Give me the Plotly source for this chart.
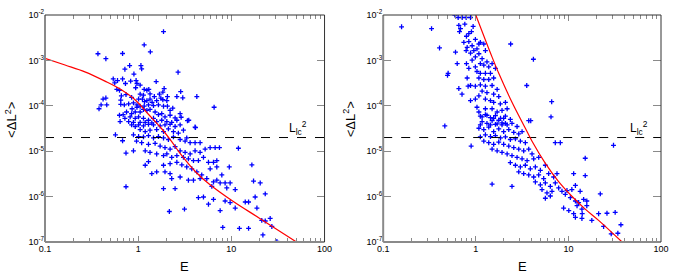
import plotly.graph_objects as go

# ---------------- data ----------------
E_left = [
    1.87, 1.16, 1.35, 0.37, 0.68, 0.45, 0.81, 1.07, 1.09, 0.72,
    0.90, 2.68, 0.54, 0.60, 0.68, 0.56, 0.73, 0.83, 0.95, 0.97,
    0.59, 0.63, 0.94, 1.05, 1.56, 1.90, 2.86, 1.84, 1.30, 1.16,
    1.24, 2.60, 3.01, 4.26, 6.53, 0.42, 0.45, 0.40, 0.46, 0.38,
    0.66, 0.65, 0.85, 3.49, 4.12, 2.89,
    0.74, 1.05, 1.14, 1.34, 1.49, 1.69, 2.06, 1.01, 1.11, 1.17,
    1.24, 1.34, 1.41, 1.58, 1.75, 1.84, 2.03, 0.65, 0.71, 0.79,
    0.89, 0.97, 1.05, 1.16, 1.29, 1.46, 1.65, 1.87, 2.06, 2.35,
    2.20, 0.86, 0.97, 0.75, 0.85, 0.93, 1.05, 1.14, 1.24, 1.34,
    1.52, 1.65, 1.79, 1.94, 2.20, 2.49, 2.82, 0.72, 0.82, 0.93,
    1.01, 1.14, 1.29, 1.46, 1.58, 1.79, 2.03, 2.29, 2.60, 3.38,
    0.64, 0.79, 0.89, 1.05, 1.19, 1.40, 0.63, 0.69,
    0.85, 0.93, 1.01, 1.14, 1.29, 1.46, 1.72, 1.94, 2.20, 2.49,
    2.82, 4.08, 1.05, 1.19, 1.34, 1.58, 1.87, 2.11, 2.39, 2.70,
    3.06, 0.89, 1.01, 1.14, 1.29, 1.46, 1.65, 1.87, 2.11, 2.39,
    2.82, 3.19, 3.61, 4.08, 4.62, 3.32, 0.96, 1.09, 1.29, 1.52,
    1.72, 1.94, 2.20, 2.49, 2.82, 3.19, 3.61, 4.08, 4.62, 5.23,
    5.92, 6.70, 7.45, 11.9, 0.89, 1.19, 1.34, 1.58, 1.87, 2.03,
    2.29, 2.60, 3.06, 3.46, 3.92, 4.43, 5.02, 5.68, 6.43, 6.98,
    1.19, 1.29, 1.40, 1.58, 1.87, 2.20, 2.60, 2.94, 3.32, 3.76,
    4.26, 4.81, 5.45, 6.43, 6.98, 7.58, 8.57, 9.70, 9.5, 7.90,
    5.92, 6.98, 1.94, 2.20, 2.29, 2.82, 3.46, 3.92, 4.62, 6.17,
    8.93, 11.0, 16.6, 17.3, 20.4, 1.87, 2.49, 4.43, 5.02, 5.68,
    6.43, 7.58, 8.57, 9.70, 11.0, 14.1, 15.3, 18.0, 18.8, 23.1,
    2.16, 3.14, 8.09, 12.2, 15.3, 21.2, 23.1, 26.1, 27.2, 21.8,
    30.8, 0.57, 0.68, 0.74, 0.74,
]
dL_left = [
    4.3e-3, 2.2e-3, 1.54e-3, 1.4e-3, 1.42e-3, 1.09e-3, 7.7e-4, 7.7e-4, 6.5e-4, 6.4e-4,
    5.0e-4, 5.5e-4, 3.9e-4, 3.6e-4, 3.9e-4, 3.2e-4, 3.1e-4, 3.5e-4, 3.6e-4, 3.1e-4,
    2.3e-4, 2.2e-4, 2.5e-4, 2.85e-4, 3.4e-4, 2.4e-4, 2.05e-4, 2.0e-4, 2.3e-4, 2.3e-4,
    2.2e-4, 1.6e-4, 1.5e-4, 1.6e-4, 9.3e-5, 1.41e-4, 1.48e-4, 1.05e-4, 1.05e-4, 8.6e-5,
    1.66e-4, 1.34e-4, 1.53e-4, 4.8e-5, 3.3e-5, 5.6e-5,
    1.77e-4, 1.8e-4, 1.71e-4, 1.83e-4, 1.6e-4, 1.8e-4, 1.6e-4, 1.41e-4, 1.41e-4, 1.23e-4,
    1.30e-4, 1.41e-4, 1.19e-4, 1.30e-4, 1.48e-4, 1.36e-4, 1.30e-4, 1.08e-4, 1.05e-4, 1.10e-4,
    1.16e-4, 1.05e-4, 9.8e-5, 9.8e-5, 1.05e-4, 1.01e-4, 1.05e-4, 9.8e-5, 9.8e-5, 8.9e-5,
    7.9e-5, 8.6e-5, 9.3e-5, 7.3e-5, 6.7e-5, 7.3e-5, 7.3e-5, 8.3e-5, 7.9e-5, 8.3e-5,
    7.3e-5, 6.4e-5, 6.7e-5, 5.7e-5, 6.2e-5, 5.4e-5, 6.7e-5, 5.3e-5, 5.7e-5, 5.3e-5,
    5.7e-5, 5.3e-5, 4.8e-5, 5.3e-5, 4.5e-5, 4.8e-5, 4.5e-5, 4.3e-5, 4.8e-5, 4.7e-5,
    4.5e-5, 4.5e-5, 4.3e-5, 4.3e-5, 4.3e-5, 4.2e-5, 6.2e-5, 6.4e-5,
    3.8e-5, 3.5e-5, 3.8e-5, 3.6e-5, 3.9e-5, 3.8e-5, 3.6e-5, 3.8e-5, 3.9e-5, 3.5e-5,
    3.8e-5, 3.4e-5, 3.0e-5, 2.7e-5, 2.9e-5, 3.0e-5, 2.7e-5, 3.1e-5, 2.7e-5, 2.5e-5,
    2.9e-5, 2.3e-5, 2.1e-5, 2.07e-5, 2.2e-5, 1.96e-5, 2.1e-5, 1.96e-5, 1.81e-5, 2.07e-5,
    1.81e-5, 1.67e-5, 1.54e-5, 1.54e-5, 1.54e-5, 1.96e-5, 1.67e-5, 1.54e-5, 1.42e-5, 1.49e-5,
    1.30e-5, 1.20e-5, 1.11e-5, 1.26e-5, 1.02e-5, 9.4e-6, 8.7e-6, 1.02e-5, 9.4e-6, 1.11e-5,
    1.20e-5, 1.20e-5, 1.20e-5, 1.16e-5, 1.02e-5, 1.02e-5, 9.4e-6, 8.7e-6, 8.0e-6, 8.7e-6,
    7.3e-6, 8.0e-6, 7.3e-6, 6.8e-6, 6.2e-6, 6.2e-6, 7.3e-6, 5.7e-6, 5.7e-6, 6.2e-6,
    4.9e-6, 5.9e-6, 3.2e-6, 3.5e-6, 4.9e-6, 5.3e-6, 5.7e-6, 5.0e-6, 4.5e-6, 4.1e-6,
    3.5e-6, 3.0e-6, 2.5e-6, 2.1e-6, 2.3e-6, 2.0e-6, 2.0e-6, 2.0e-6, 4.5e-6, 3.0e-6,
    4.1e-6, 4.5e-6, 3.5e-6, 3.2e-6, 2.5e-6, 2.7e-6, 2.3e-6, 2.3e-6, 2.5e-6, 1.68e-6,
    1.55e-6, 1.43e-6, 5.0e-6, 2.2e-6, 2.0e-6, 1.50e-6, 1.50e-6, 9.5e-7, 9.8e-7, 6.8e-7,
    8.7e-7, 4.9e-7, 8.0e-7, 7.4e-7, 5.6e-7, 7.6e-7, 7.6e-7, 9.8e-7, 5.6e-7, 1.15e-6,
    4.7e-7, 5.3e-7, 2.1e-7, 2.0e-7, 2.0e-7, 3.0e-7, 2.9e-7, 3.3e-7, 2.2e-7, 1.43e-7,
    1.03e-7, 2.3e-5, 1.7e-5, 9.1e-6, 1.65e-6,
]

E_right = [
    0.158, 0.333, 0.406, 0.604, 0.630, 0.503, 0.495, 0.594, 0.645, 0.713,
    0.787, 0.877, 0.656, 0.684, 0.667, 0.761, 0.936, 0.793, 0.841, 0.898,
    0.99, 1.08, 0.841, 0.743, 0.807, 0.913, 1.03, 1.12, 1.22, 0.952,
    0.877, 0.787, 1.08, 1.27, 1.17, 0.99, 0.913, 0.793, 0.841, 0.99,
    1.12, 1.22, 1.32, 1.38, 1.50, 1.63, 1.44, 1.27, 1.12, 1.03,
    1.08, 1.22, 1.38, 1.56, 0.807, 0.877, 0.99, 1.12, 1.27, 1.50,
    1.70, 1.17, 1.32, 1.56, 1.77, 0.656, 0.826, 0.877, 0.99, 1.08,
    1.27, 1.44, 1.56, 1.84, 2.09, 1.03, 1.08, 1.27, 1.50, 1.70,
    1.92, 2.18, 1.17, 1.32, 1.56, 1.77, 2.00, 1.12, 1.44, 1.63,
    1.92, 2.09,
    0.71, 2.38, 4.19, 3.55, 6.6, 14.1,
    1.12, 1.27, 1.44, 1.63, 1.85, 2.09, 2.36, 1.17, 1.32, 1.50,
    1.70, 1.92, 2.18, 2.46, 2.79, 1.08, 1.22, 1.38, 1.56, 1.77,
    2.00, 2.27, 2.57, 2.91, 3.16, 1.27, 1.44, 1.63, 1.85, 2.09,
    2.36, 2.68, 3.03, 3.43, 1.12, 1.22, 1.38, 1.56, 1.77, 2.00,
    2.27, 2.57, 2.91, 3.29, 3.73, 4.05, 1.50, 1.70, 1.92, 2.18,
    2.46, 2.79, 3.16, 3.58, 4.22, 4.78, 2.36, 2.68, 3.03, 3.43,
    3.88, 4.40, 4.98, 5.64, 2.91, 3.29, 3.73, 4.22, 4.78, 5.41,
    6.12, 6.93, 7.53, 4.40, 4.98, 5.64, 6.38, 7.22, 5.19, 5.87,
    6.65, 7.85, 8.52, 9.65, 10.9, 11.9, 13.4, 5.64, 6.38, 9.26,
    10.5, 11.9, 12.9, 14.6, 15.8, 8.88, 10.1, 11.4, 12.4, 14.0,
    15.8, 11.9, 14.0, 17.9, 21.2, 24.0, 26.1, 32.0, 29.0, 34.2,
    36.9, 22.1, 15.2, 30.7, 6.49, 3.73, 3.92, 7.22, 8.18, 0.463,
    0.891, 1.5, 2.46, 11.4, 15.2,
]
dL_right = [
    5.5e-3, 5.0e-3, 1.88e-3, 1.52e-3, 8.5e-4, 5.2e-4, 4.7e-4, 1.0e-2, 8.8e-3, 8.8e-3,
    8.8e-3, 8.8e-3, 5.9e-3, 5.0e-3, 4.3e-3, 6.3e-3, 5.6e-3, 3.4e-3, 3.9e-3, 4.3e-3,
    2.9e-3, 2.3e-3, 2.6e-3, 2.5e-3, 1.94e-3, 2.1e-3, 1.79e-3, 2.5e-3, 2.3e-3, 1.65e-3,
    1.45e-3, 1.65e-3, 1.40e-3, 1.65e-3, 1.09e-3, 1.19e-3, 1.01e-3, 8.5e-4, 6.7e-4, 7.2e-4,
    8.5e-4, 7.9e-4, 9.3e-4, 7.2e-4, 8.5e-4, 6.7e-4, 5.2e-4, 5.2e-4, 5.2e-4, 5.7e-4,
    4.1e-4, 3.8e-4, 3.8e-4, 4.1e-4, 4.1e-4, 2.8e-4, 2.7e-4, 2.9e-4, 2.7e-4, 2.8e-4,
    2.3e-4, 2.1e-4, 1.95e-4, 1.80e-4, 1.60e-4, 2.4e-4, 2.7e-4, 1.30e-4, 1.41e-4, 1.66e-4,
    1.41e-4, 1.30e-4, 1.19e-4, 1.10e-4, 1.19e-4, 9.3e-5, 7.3e-5, 8.6e-5, 8.6e-5, 7.3e-5,
    7.9e-5, 8.6e-5, 5.7e-5, 6.2e-5, 5.3e-5, 4.8e-5, 5.3e-5, 3.8e-5, 3.8e-5, 3.9e-5,
    3.8e-5, 4.1e-5,
    1.8e-4, 2.3e-3, 1.06e-3, 2.8e-4, 1.23e-4, 4.2e-7,
    5.9e-5, 6.4e-5, 5.5e-5, 6.1e-5, 5.3e-5, 5.9e-5, 5.0e-5, 4.5e-5, 4.1e-5, 4.7e-5,
    4.0e-5, 4.2e-5, 3.8e-5, 4.1e-5, 3.5e-5, 3.2e-5, 3.0e-5, 3.4e-5, 2.7e-5, 3.1e-5,
    2.7e-5, 3.0e-5, 2.6e-5, 2.4e-5, 2.7e-5, 2.3e-5, 2.1e-5, 2.2e-5, 1.96e-5, 2.07e-5,
    1.81e-5, 1.87e-5, 1.67e-5, 1.54e-5, 2.07e-5, 1.67e-5, 1.54e-5, 1.42e-5, 1.59e-5, 1.42e-5,
    1.30e-5, 1.20e-5, 1.11e-5, 1.02e-5, 1.11e-5, 8.7e-6, 1.11e-5, 1.02e-5, 9.4e-6, 8.7e-6,
    8.0e-6, 7.3e-6, 6.8e-6, 6.2e-6, 6.8e-6, 7.3e-6, 5.6e-6, 4.9e-6, 4.5e-6, 4.9e-6,
    4.1e-6, 4.5e-6, 3.8e-6, 4.9e-6, 3.5e-6, 3.2e-6, 3.0e-6, 2.7e-6, 3.0e-6, 2.5e-6,
    3.2e-6, 2.7e-6, 3.2e-6, 2.1e-6, 1.82e-6, 2.0e-6, 1.68e-6, 2.0e-6, 1.43e-6, 1.21e-6,
    1.31e-6, 1.55e-6, 1.31e-6, 1.36e-6, 1.43e-6, 1.76e-6, 1.31e-6, 9.2e-7, 1.03e-6, 1.12e-6,
    9.5e-7, 8.0e-7, 7.4e-7, 8.7e-7, 8.0e-7, 5.6e-7, 4.9e-7, 4.2e-7, 6.3e-7, 5.3e-7,
    6.3e-7, 3.5e-7, 3.3e-7, 3.0e-7, 4.2e-7, 2.2e-7, 4.3e-7, 4.5e-7, 1.51e-7, 1.56e-7,
    2.4e-7, 1.15e-6, 7.0e-6, 1.35e-5, 5.7e-5, 4.7e-5, 4.7e-5, 1.54e-5, 1.54e-5, 3.6e-5,
    1.30e-5, 1.88e-6, 1.68e-6, 3.2e-6, 2.9e-6,
]

# red model curves
curve_E_left = [0.1, 0.164, 0.268, 0.44, 0.66, 0.92, 1.28, 1.78, 2.28, 2.79, 4.2,
                5.86, 10.4, 20.0, 50.0]
curve_L_left = [1.11e-3, 7.9e-4, 5.6e-4, 3.5e-4, 2.26e-4, 1.38e-4, 6.6e-5, 3.16e-5,
                1.64e-5, 9.2e-6, 3.4e-6, 1.85e-6, 7.9e-7, 3.35e-7, 1.0e-7]
curve_E_right = [1.0, 1.5, 1.77, 2.46, 3.43, 4.05, 5.64, 7.84, 10.9, 15.2, 21.2, 38.0]
curve_L_right = [1e-2, 1.18e-3, 5.2e-4, 1.2e-4, 3.2e-5, 1.65e-5, 5.4e-6, 2.14e-6,
                 1.02e-6, 5.3e-7, 3.0e-7, 1.0e-7]

L_lc2 = 2e-5                       # loss-cone level (dashed line)
x_range_E = [0.1, 100]

x_tickvals = [0.1, 1, 10, 100]
x_ticktext = ["0.1", "1", "10", "100"]
x_minor = [0.2, 0.3, 0.4, 0.5, 0.6, 0.7, 0.8, 0.9,
           2, 3, 4, 5, 6, 7, 8, 9,
           20, 30, 40, 50, 60, 70, 80, 90]
y_tickvals = [1e-7, 1e-6, 1e-5, 1e-4, 1e-3, 1e-2]
y_ticktext = ["10<sup>-7</sup>", "10<sup>-6</sup>", "10<sup>-5</sup>",
              "10<sup>-4</sup>", "10<sup>-3</sup>", "10<sup>-2</sup>"]

# ---------------- figure ----------------
FONT = "Liberation Sans, Arial, Helvetica, sans-serif"
BLUE = "#0000ff"
RED = "#ff0000"
GRAY = "#8a8a8a"

fig = go.Figure()

panels = [
    ("x", "y", E_left, dL_left, curve_E_left, curve_L_left),
    ("x2", "y2", E_right, dL_right, curve_E_right, curve_L_right),
]
for xa, ya, E, L, cE, cL in panels:
    fig.add_trace(go.Scatter(
        x=E, y=L, mode="markers", xaxis=xa, yaxis=ya,
        marker=dict(symbol="cross-thin", size=3.5, color=BLUE,
                    line=dict(color=BLUE, width=1.3)),
        showlegend=False, hoverinfo="skip"))
    fig.add_trace(go.Scatter(
        x=x_range_E, y=[L_lc2, L_lc2], mode="lines", xaxis=xa, yaxis=ya,
        line=dict(color="black", width=1, dash="dash"),
        showlegend=False, hoverinfo="skip"))
    fig.add_trace(go.Scatter(
        x=cE, y=cL, mode="lines", xaxis=xa, yaxis=ya,
        line=dict(color=RED, width=1.2, shape="spline", smoothing=1.0),
        showlegend=False, hoverinfo="skip"))

xaxis_common = dict(
    type="log", range=[-1, 2], showgrid=False, zeroline=False, showline=False,
    tickmode="array", tickvals=x_tickvals, ticktext=x_ticktext,
    ticks="inside", ticklen=6, tickwidth=1, tickcolor=GRAY, mirror="allticks",
    minor=dict(ticks="inside", ticklen=4, tickwidth=1, tickcolor=GRAY,
               tickmode="array", tickvals=x_minor, showgrid=False),
    tickfont=dict(family=FONT, size=9, color="black"),
)
yaxis_common = dict(
    type="log", range=[-7, -2], showgrid=False, zeroline=False, showline=False,
    tickmode="array", tickvals=y_tickvals, ticktext=y_ticktext,
    ticks="inside", ticklen=8, tickwidth=1, tickcolor=GRAY, mirror="allticks",
    tickfont=dict(family=FONT, size=9, color="black"),
)

fig.update_layout(
    width=677, height=275,
    margin=dict(l=45, r=15, t=8, b=33),
    paper_bgcolor="white", plot_bgcolor="white",
    font=dict(family=FONT, color="black"),
    xaxis=dict(domain=[0, 0.4538], anchor="y", **xaxis_common),
    yaxis=dict(domain=[0, 1], anchor="x", **yaxis_common),
    xaxis2=dict(domain=[0.549, 1], anchor="y2", **xaxis_common),
    yaxis2=dict(domain=[0, 1], anchor="x2", **yaxis_common),
)

shapes = []
annotations = []
for xa, ya, lx in [("x", "y", 0.905), ("x2", "y2", 0.92)]:
    xd, yd = xa + " domain", ya + " domain"
    shapes += [
        dict(type="line", xref=xd, yref=yd, x0=0, x1=0, y0=0, y1=1,
             line=dict(color=GRAY, width=2)),
        dict(type="line", xref=xd, yref=yd, x0=0, x1=1, y0=0, y1=0,
             line=dict(color=GRAY, width=2)),
        dict(type="line", xref=xd, yref=yd, x0=0, x1=1, y0=1, y1=1,
             line=dict(color="#333333", width=1)),
        dict(type="line", xref=xd, yref=yd, x0=1, x1=1, y0=0, y1=1,
             line=dict(color="#333333", width=1)),
    ]
    annotations += [
        dict(xref=xd, yref=yd, x=-0.12, y=0.54, text="&lt;ΔL<sup>2</sup>&gt;",
             textangle=-90, showarrow=False, font=dict(family=FONT, size=13),
             xanchor="center", yanchor="middle"),
        dict(xref=xd, yref=yd, x=0.5, y=-0.108, text="E", showarrow=False,
             font=dict(family=FONT, size=13), xanchor="center", yanchor="middle"),
        dict(xref=xd, yref=yd, x=lx, y=0.455, text="L<sub>lc</sub><sup>2</sup>",
             showarrow=False, font=dict(family=FONT, size=12),
             xanchor="center", yanchor="bottom"),
    ]
fig.update_layout(shapes=shapes, annotations=annotations)

fig.write_html("out.html", config={"displayModeBar": False},
               post_script="document.body.style.margin='0';")
